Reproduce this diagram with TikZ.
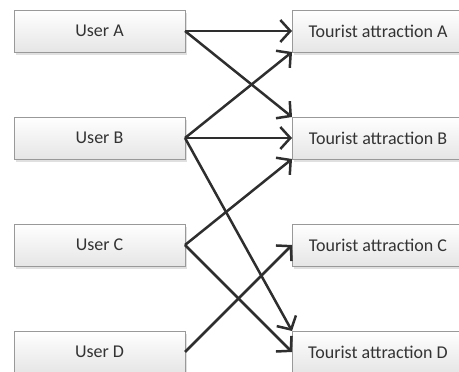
\documentclass[tikz,border=0pt]{standalone}
\usepackage{fontspec}
\setmainfont{Carlito}
\usetikzlibrary{arrows.meta,shadows}

\begin{document}
\begin{tikzpicture}[x=1pt,y=1pt,
    box/.style={draw=black!40,top color=white,bottom color=black!10,minimum width=171pt,minimum height=42pt,
        outer sep=0pt,inner sep=0pt,text=black!80,font=\fontsize{18}{20}\selectfont,
        drop shadow={shadow xshift=2pt,shadow yshift=-3pt,fill=black!12,opacity=1}},
    link/.style={draw=black!82,line width=2.5pt,-{Straight Barb[length=10pt,width=22pt]}}]
    \useasboundingbox (0,0) rectangle (459,372);
    \foreach \n/\y in {A/341,B/234,C/127,D/20}{
        \node[box](u\n) at (99.5,\y){User \n};
        \node[box,minimum width=172pt](t\n) at (378,\y){Tourist attraction \n};
    }
    \foreach \a/\b in {uA/tA.west,uA/tB.north west,uB/tA.south west,uB/tB.west,
                       uB/tD.north west,uC/tB.south west,uC/tD.west,uD/tC.west}
        \draw[link](\a.east) -- (\b);
\end{tikzpicture}
\end{document}
